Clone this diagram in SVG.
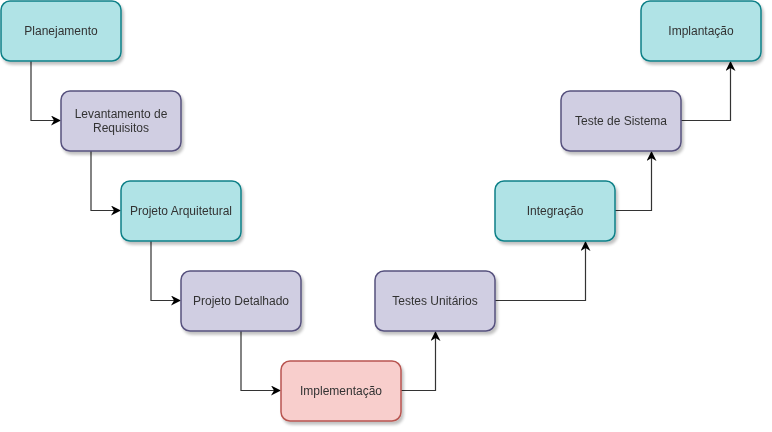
<svg xmlns="http://www.w3.org/2000/svg" width="772" height="432" viewBox="0 0 772 432">
<defs>
<filter id="sh" x="-10%" y="-10%" width="130%" height="140%">
<feGaussianBlur in="SourceAlpha" stdDeviation="1.5"/>
<feOffset dx="2" dy="3" result="b"/>
<feComponentTransfer><feFuncA type="linear" slope="0.25"/></feComponentTransfer>
<feMerge><feMergeNode/><feMergeNode in="SourceGraphic"/></feMerge>
</filter>
<marker id="ar" viewBox="0 0 10 10" refX="9" refY="5" markerWidth="10" markerHeight="10" markerUnits="userSpaceOnUse" orient="auto">
<path d="M0,0 L10,5 L0,10 L3,5 Z" fill="#000"/>
</marker>
</defs>
<style>
.t rect{fill:#b0e3e6;stroke:#0e8088;stroke-width:1.5}
.p rect{fill:#d0cee2;stroke:#56517e;stroke-width:1.5}
.r rect{fill:#f8cecc;stroke:#b85450;stroke-width:1.5}
text{font-family:"Liberation Sans",Arial,sans-serif;font-size:12px;fill:#333;text-anchor:middle}
.c path{fill:none;stroke:#333;stroke-width:1.2;marker-end:url(#ar)}
</style>
<g class="c" id="connectors">
<path d="M31,61 V120.5 H60"/>
<path d="M91,151 V210.5 H120"/>
<path d="M151,241 V300.5 H180"/>
<path d="M241,331 V390.5 H280"/>
<path d="M401,390.5 H435.5 V332"/>
<path d="M495,300.5 H585.5 V242"/>
<path d="M615,210.5 H651.5 V152"/>
<path d="M681,120.5 H730.5 V62"/>
</g>
<g id="n1" class="t" filter="url(#sh)"><rect x="1" y="1" width="120" height="60" rx="9"/><text x="61" y="35">Planejamento</text></g>
<g id="n2" class="p" filter="url(#sh)"><rect x="61" y="91" width="120" height="60" rx="9"/><text x="121" y="118">Levantamento de</text><text x="121" y="132">Requisitos</text></g>
<g id="n3" class="t" filter="url(#sh)"><rect x="121" y="181" width="120" height="60" rx="9"/><text x="181" y="215">Projeto Arquitetural</text></g>
<g id="n4" class="p" filter="url(#sh)"><rect x="181" y="271" width="120" height="60" rx="9"/><text x="241" y="305">Projeto Detalhado</text></g>
<g id="n5" class="r" filter="url(#sh)"><rect x="281" y="361" width="120" height="60" rx="9"/><text x="341" y="395">Implementação</text></g>
<g id="n6" class="p" filter="url(#sh)"><rect x="375" y="271" width="120" height="60" rx="9"/><text x="435" y="305">Testes Unitários</text></g>
<g id="n7" class="t" filter="url(#sh)"><rect x="495" y="181" width="120" height="60" rx="9"/><text x="555" y="215">Integração</text></g>
<g id="n8" class="p" filter="url(#sh)"><rect x="561" y="91" width="120" height="60" rx="9"/><text x="621" y="125">Teste de Sistema</text></g>
<g id="n9" class="t" filter="url(#sh)"><rect x="641" y="1" width="120" height="60" rx="9"/><text x="701" y="35">Implantação</text></g>
</svg>
